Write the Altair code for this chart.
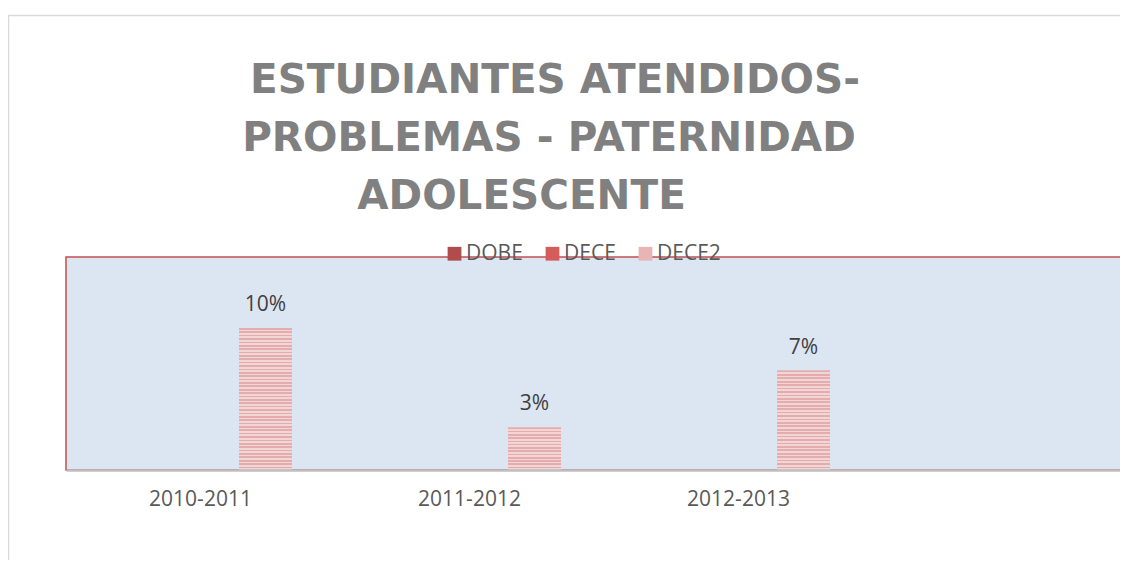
import altair as alt
import pandas as pd

# ---- data ----
categories = ["2010-2011", "2011-2012", "2012-2013"]
empty_slot = " "
series_names = ["DOBE", "DECE", "DECE2"]
dobe = [None, None, None]
dece = [None, None, None]
dece2 = [0.10, 0.03, 0.07]
title_lines = ["ESTUDIANTES ATENDIDOS-", "PROBLEMAS - PATERNIDAD", "ADOLESCENTE"]

rows = []
for s, vals in zip(series_names, [dobe, dece, dece2]):
    for c, v in zip(categories, vals):
        if v is not None:
            rows.append({"cat": c, "series": s, "value": v})
df = pd.DataFrame(rows)

# ---- styling ----
PLOT_W, PLOT_H = 1054, 213
BAND_RANGE = 1076
Y_MAX = 0.15
colors = ["#B04C4C", "#D45D5C", "#E8B4B4"]
stripe_dark = "#E4ACAC"
stripe_light = "#F2D5D5"
label_font = "Open Sans"

x_enc = alt.X(
    "cat:N",
    scale=alt.Scale(domain=categories + [empty_slot], range=[0, BAND_RANGE],
                    paddingInner=0, paddingOuter=0),
    axis=alt.Axis(title=None, labelAngle=0, ticks=False, domainColor="#BFBFBF",
                  domainWidth=2.5, labelFontSize=21, labelFont=label_font,
                  labelColor="#595959", labelPadding=18, zindex=1),
)
xoff_enc = alt.XOffset("series:N",
                       scale=alt.Scale(domain=series_names, paddingInner=0.185,
                                       paddingOuter=0.662))
y_enc = alt.Y("value:Q", scale=alt.Scale(domain=[0, Y_MAX]), axis=None)

one_row = alt.Data(values=[{"k": 1}])

outer_border = alt.Chart(one_row).mark_rect(
    fillOpacity=0, stroke="#D9D9D9", strokeWidth=1.5
).encode(x=alt.value(-57.5), x2=alt.value(1200), y=alt.value(-241.5), y2=alt.value(500))

plot_bg = alt.Chart(one_row).mark_rect(
    fill="#DCE6F2", stroke="#C0504D", strokeWidth=1.5
).encode(x=alt.value(0), x2=alt.value(1200), y=alt.value(0), y2=alt.value(PLOT_H))

bars = alt.Chart(df).mark_bar().encode(
    x=x_enc, xOffset=xoff_enc, y=y_enc,
    color=alt.Color("series:N",
                    scale=alt.Scale(domain=series_names, range=colors),
                    legend=alt.Legend(title=None, orient="none", direction="horizontal",
                                      legendX=378, legendY=-14, symbolType="square",
                                      symbolSize=190, symbolStrokeWidth=0,
                                      labelFontSize=21, labelFont=label_font,
                                      labelColor="#595959", labelOffset=1,
                                      columnPadding=19)),
)


def stripe_gradient(n):
    stops = []
    for i in range(n):
        a = i / n
        b = (i + 0.5) / n
        c = (i + 1) / n
        stops += [
            {"offset": a, "color": stripe_dark},
            {"offset": b, "color": stripe_dark},
            {"offset": b, "color": stripe_light},
            {"offset": c, "color": stripe_light},
        ]
    return {"gradient": "linear", "x1": 0, "y1": 0, "x2": 0, "y2": 1, "stops": stops}


stripe_layers = []
for c, v in zip(categories, dece2):
    n = max(3, round(v / Y_MAX * PLOT_H / 3.4))
    stripe_layers.append(
        alt.Chart(df).transform_filter(
            (alt.datum.cat == c) & (alt.datum.series == "DECE2")
        ).mark_bar(fill=stripe_gradient(n)).encode(x=x_enc, xOffset=xoff_enc, y=y_enc)
    )

labels = alt.Chart(df).transform_filter(alt.datum.series == "DECE2").mark_text(
    dy=-17, baseline="alphabetic", fontSize=21, font=label_font, color="#404040"
).encode(x=x_enc, xOffset=xoff_enc, y=y_enc, text=alt.Text("value:Q", format=".0%"))

title_pos = [(489, -164), (483, -106), (455.5, -48)]
title_layers = []
for line, (tx, ty) in zip(title_lines, title_pos):
    title_layers.append(
        alt.Chart(one_row).mark_text(
            text=line, font="DejaVu Sans", fontWeight="bold", fontSize=40.5,
            color="#808080", align="center", baseline="alphabetic"
        ).encode(x=alt.value(tx), y=alt.value(ty))
    )

chart = alt.layer(
    outer_border, plot_bg, bars, *stripe_layers, labels, *title_layers
).properties(
    width=PLOT_W, height=PLOT_H,
    autosize=alt.AutoSizeParams(type="none"),
    padding={"left": 58, "top": 249, "right": 0, "bottom": 90},
).configure_view(stroke="transparent")

chart.save("out.html", embed_options={"renderer": "svg", "actions": False})
